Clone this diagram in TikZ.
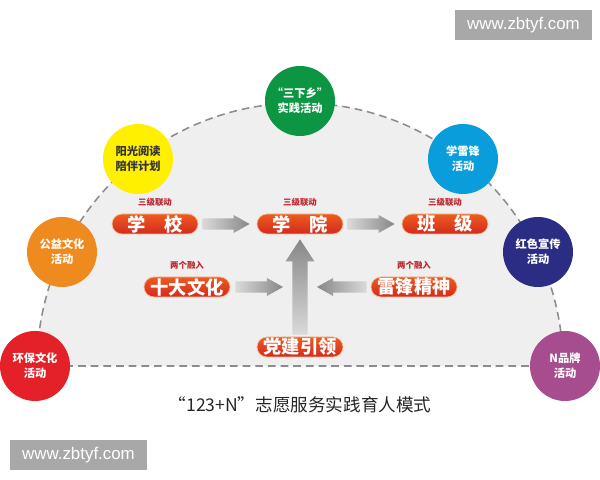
\documentclass[tikz,border=0pt]{standalone}
\usepackage{fontspec}
\usepackage{xcolor}
\usepackage{tikz}
\usetikzlibrary{arrows.meta, positioning, calc}
\newfontfamily\cjk{Noto Sans CJK SC}
\newfontfamily\webfont{Liberation Sans}
\definecolor{bggray}{RGB}{239, 239, 239}
\definecolor{edgegray}{RGB}{140, 140, 140}
\definecolor{hbred}{RGB}{228, 32, 40}
\definecolor{gyorange}{RGB}{238, 138, 30}
\definecolor{ygyellow}{RGB}{255, 240, 0}
\definecolor{sxgreen}{RGB}{12, 150, 68}
\definecolor{xlblue}{RGB}{10, 157, 219}
\definecolor{hsnavy}{RGB}{43, 45, 133}
\definecolor{nppurple}{RGB}{166, 76, 143}
\definecolor{pilltop}{RGB}{236, 92, 32}
\definecolor{pillmid}{RGB}{247, 140, 40}
\definecolor{pillbottom}{RGB}{212, 42, 30}
\definecolor{pillrim}{RGB}{250, 190, 150}
\definecolor{tagred}{RGB}{190, 35, 45}
\definecolor{flowdark}{RGB}{135, 135, 135}
\definecolor{flowlight}{RGB}{218, 218, 218}
\definecolor{markgray}{RGB}{168, 168, 168}
\tikzstyle{activity} = [
    circle,
    minimum size=1.75cm,
    inner sep=0pt,
    align=center,
    text=white,
    font=\cjk\bfseries\fontsize{8}{10.5}\selectfont
]
\tikzstyle{level} = [
    rectangle,
    rounded corners=0.25cm,
    minimum width=2.15cm,
    minimum height=0.5cm,
    inner sep=0pt,
    draw=pillrim,
    line width=0.5pt,
    top color=pilltop,
    middle color=pillmid,
    bottom color=pillbottom,
    text=white,
    font=\cjk\bfseries\fontsize{13}{13}\selectfont
]
\tikzstyle{tag} = [
    text=tagred,
    inner sep=0pt,
    font=\cjk\bfseries\fontsize{6}{6}\selectfont
]
\tikzstyle{watermark} = [
    rectangle,
    minimum width=3.425cm,
    minimum height=0.75cm,
    fill=markgray,
    text=white,
    font=\webfont\fontsize{12}{12}\selectfont
]
\tikzset{
    flow/.style n args={3}{to path={
        ($(\tikztostart)!#1!90:(\tikztotarget)$)
        -- ($(\tikztotarget)!#3!(\tikztostart)!#1!90:(\tikztotarget)$)
        -- ($(\tikztotarget)!#3!(\tikztostart)!#2!90:(\tikztotarget)$)
        -- (\tikztotarget)
        -- ($(\tikztotarget)!#3!(\tikztostart)!#2!-90:(\tikztotarget)$)
        -- ($(\tikztotarget)!#3!(\tikztostart)!#1!-90:(\tikztotarget)$)
        -- ($(\tikztostart)!#1!-90:(\tikztotarget)$)
        -- cycle}}
}

\begin{document}
\begin{tikzpicture}[x=0.025cm, y=0.025cm]
    \useasboundingbox (0,0) rectangle (600,480);

    % Half disc
    \draw[fill=bggray, draw=edgegray, line width=1.1pt, dash pattern=on 5.5pt off 3.5pt]
        (37,114) arc[start angle=180, end angle=0, radius=263] -- cycle;

    % Levels
    \node[level] (xuexiao) at (155,256) {学　校};
    \node[level] (xueyuan) at (300,256) {学　院};
    \node[level] (banji) at (445,256) {班　级};
    \node[level] (shida) at (187,193) {十大文化};
    \node[level] (leifeng) at (414,193) {雷锋精神};
    \node[level] (dangjian) at (300,133) {党建引领};
    \coordinate (hub) at (300,193);

    % Tags
    \node[tag, above=5pt of xuexiao] {三级联动};
    \node[tag, above=5pt of xueyuan] {三级联动};
    \node[tag, above=5pt of banji] {三级联动};
    \node[tag, above=5pt of shida] {两个融入};
    \node[tag, above=5pt of leifeng] {两个融入};

    % Arrows
    \path[flow={0.14cm}{0.225cm}{0.4cm}, left color=flowlight, right color=flowdark]
        ($(xuexiao.east)+(4,0)$) to ($(xueyuan.west)+(-7,0)$);
    \path[flow={0.14cm}{0.225cm}{0.4cm}, left color=flowlight, right color=flowdark]
        ($(xueyuan.east)+(4,0)$) to ($(banji.west)+(-7,0)$);
    \path[flow={0.14cm}{0.225cm}{0.4cm}, left color=flowlight, right color=flowdark]
        ($(shida.east)+(5,0)$) to ($(hub)+(-17,0)$);
    \path[flow={0.14cm}{0.225cm}{0.4cm}, left color=flowdark, right color=flowlight]
        ($(leifeng.west)+(-4,0)$) to ($(hub)+(17,0)$);
    \path[flow={0.19cm}{0.36cm}{0.55cm}, bottom color=flowlight, top color=flowdark]
        ($(dangjian.north)+(0,2)$) to ($(xueyuan.south)+(0,-5)$);

    % Activities
    \node[activity, fill=hbred] (huanbao) at (35,114) {环保文化\\活动};
    \node[activity, fill=gyorange] (gongyi) at (62,228) {公益文化\\活动};
    \node[activity, fill=ygyellow, text=black!80] (yuedu) at (138,321) {阳光阅读\\陪伴计划};
    \node[activity, fill=sxgreen] (sanxia) at (300,379) {“三下乡”\\实践活动};
    \node[activity, fill=xlblue] (xuelei) at (463,321) {学雷锋\\活动};
    \node[activity, fill=hsnavy] (hongse) at (538,228) {红色宣传\\活动};
    \node[activity, fill=nppurple] (pinpai) at (565,114) {N品牌\\活动};

    % Caption
    \node[text=black!85, font=\cjk\fontsize{12.5}{12.5}\selectfont] (caption) at (300,75)
        {“123+N”志愿服务实践育人模式};

    % Watermarks
    \node[watermark] (marktop) at (523.5,455) {www.zbtyf.com};
    \node[watermark] (markbottom) at (78.5,25) {www.zbtyf.com};
\end{tikzpicture}
\end{document}
